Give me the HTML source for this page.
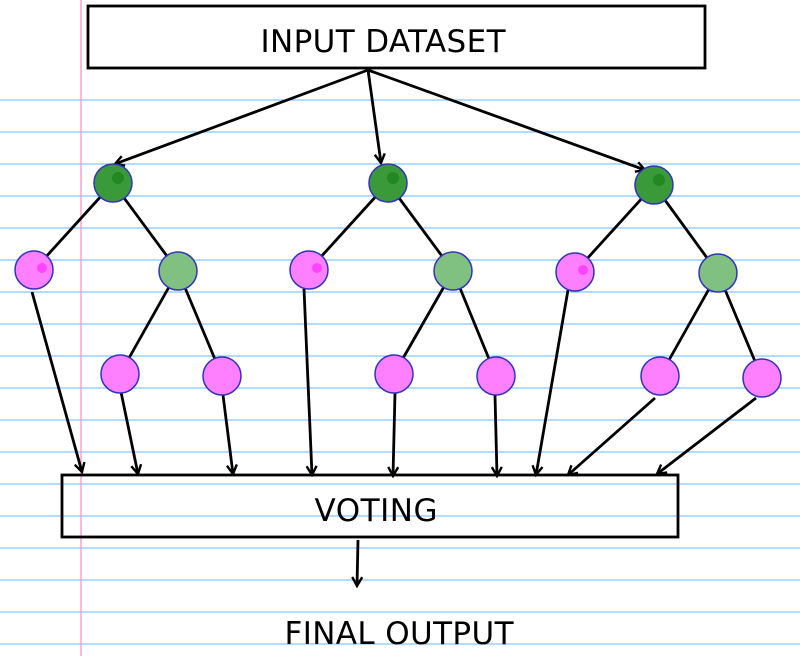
<!DOCTYPE html>
<html><head><meta charset="utf-8"><style>html,body{margin:0;padding:0;background:#fff}svg{display:block}</style></head>
<body>
<svg width="800" height="656" viewBox="0 0 800 656" xmlns="http://www.w3.org/2000/svg">
<defs>
<marker id="a" viewBox="0 0 12 12" refX="10" refY="6" markerWidth="12" markerHeight="12" markerUnits="userSpaceOnUse" orient="auto">
<path d="M1,1 L10,6 L1,11" fill="none" stroke="#000" stroke-width="2.4"/>
</marker>
</defs>
<g stroke="#66b8ff" stroke-width="1">
<line x1="0" y1="100" x2="800" y2="100"/><line x1="0" y1="132" x2="800" y2="132"/><line x1="0" y1="164" x2="800" y2="164"/><line x1="0" y1="196" x2="800" y2="196"/><line x1="0" y1="228" x2="800" y2="228"/><line x1="0" y1="260" x2="800" y2="260"/><line x1="0" y1="292" x2="800" y2="292"/><line x1="0" y1="324" x2="800" y2="324"/><line x1="0" y1="356" x2="800" y2="356"/><line x1="0" y1="388" x2="800" y2="388"/><line x1="0" y1="420" x2="800" y2="420"/><line x1="0" y1="452" x2="800" y2="452"/><line x1="0" y1="484" x2="800" y2="484"/><line x1="0" y1="516" x2="800" y2="516"/><line x1="0" y1="548" x2="800" y2="548"/><line x1="0" y1="580" x2="800" y2="580"/><line x1="0" y1="612" x2="800" y2="612"/><line x1="0" y1="644" x2="800" y2="644"/>
</g>
<line x1="81" y1="0" x2="81" y2="656" stroke="#ff9fd0" stroke-width="1.5"/>
<rect x="88" y="6" width="617" height="62" fill="#fff" stroke="#000" stroke-width="2.8"/>
<text x="383" y="52" font-family="DejaVu Sans, sans-serif" font-size="31" text-anchor="middle" textLength="245">INPUT DATASET</text>
<g stroke="#000" stroke-width="2.8" fill="none" marker-end="url(#a)">
<line x1="368" y1="70" x2="115" y2="164"/>
<line x1="368" y1="70" x2="381" y2="163"/>
<line x1="368" y1="70" x2="645" y2="170"/>
<line x1="32" y1="292" x2="82" y2="472"/>
<line x1="121" y1="392" x2="138" y2="474"/>
<line x1="223" y1="395" x2="233" y2="474"/>
<line x1="304" y1="289" x2="312" y2="475"/>
<line x1="395" y1="393" x2="393" y2="476"/>
<line x1="495" y1="395" x2="497" y2="476"/>
<line x1="568" y1="290" x2="536" y2="475"/>
<line x1="655" y1="398" x2="568" y2="475"/>
<line x1="756" y1="398" x2="657" y2="474"/>
<line x1="358" y1="540" x2="357" y2="586"/>
</g>
<g stroke="#000" stroke-width="2.8">
<line x1="113" y1="183" x2="34" y2="270"/><line x1="113" y1="183" x2="178" y2="271"/>
<line x1="178" y1="271" x2="120" y2="374"/><line x1="178" y1="271" x2="222" y2="376"/>
<line x1="388" y1="183" x2="309" y2="270"/><line x1="388" y1="183" x2="453" y2="271"/>
<line x1="453" y1="271" x2="394" y2="374"/><line x1="453" y1="271" x2="496" y2="376"/>
<line x1="654" y1="185" x2="575" y2="272"/><line x1="654" y1="185" x2="718" y2="273"/>
<line x1="718" y1="273" x2="660" y2="376"/><line x1="718" y1="273" x2="762" y2="378"/>
</g>
<g stroke="#3333bb" stroke-width="1.5">
<circle cx="113" cy="183" r="19" fill="#3a9a3a"/><circle cx="388" cy="183" r="19" fill="#3a9a3a"/><circle cx="654" cy="185" r="19" fill="#3a9a3a"/>
<circle cx="178" cy="271" r="19" fill="#80c080"/><circle cx="453" cy="271" r="19" fill="#80c080"/><circle cx="718" cy="273" r="19" fill="#80c080"/>
<circle cx="34" cy="270" r="19" fill="#ff80ff"/><circle cx="309" cy="270" r="19" fill="#ff80ff"/><circle cx="575" cy="272" r="19" fill="#ff80ff"/>
<circle cx="120" cy="374" r="19" fill="#ff80ff"/><circle cx="222" cy="376" r="19" fill="#ff80ff"/>
<circle cx="394" cy="374" r="19" fill="#ff80ff"/><circle cx="496" cy="376" r="19" fill="#ff80ff"/>
<circle cx="660" cy="376" r="19" fill="#ff80ff"/><circle cx="762" cy="378" r="19" fill="#ff80ff"/>
</g>
<g fill="#ff44ff"><circle cx="42" cy="268" r="5"/><circle cx="317" cy="268" r="5"/><circle cx="583" cy="270" r="5"/></g>
<g fill="#228822"><circle cx="118" cy="178" r="6"/><circle cx="393" cy="178" r="6"/><circle cx="659" cy="180" r="6"/></g>
<rect x="62" y="475" width="616" height="62" fill="none" stroke="#000" stroke-width="2.8"/>
<text x="376" y="521" font-family="DejaVu Sans, sans-serif" font-size="31" text-anchor="middle" textLength="123">VOTING</text>
<text x="399" y="644" font-family="DejaVu Sans, sans-serif" font-size="31" text-anchor="middle" textLength="229">FINAL OUTPUT</text>
</svg>
</body></html>
